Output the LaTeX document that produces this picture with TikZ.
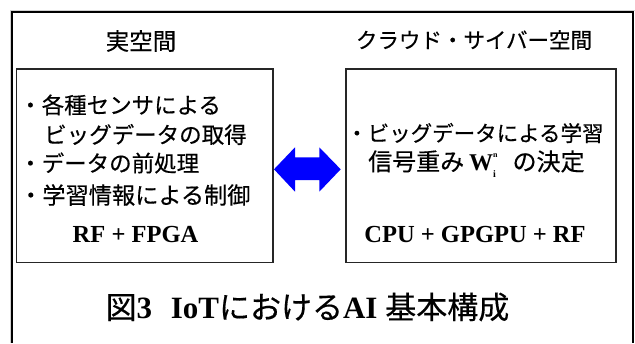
\documentclass[tikz,border=0pt]{standalone}
\usepackage{fontspec}
\setmainfont{Liberation Serif}
\newfontfamily\jp[FakeBold=0.4]{Noto Sans CJK JP}
\newcommand{\wsub}[2]{\makebox[0pt][l]{\raisebox{0.55em}{\fontsize{8}{8}\selectfont\bfseries #2}}\raisebox{-0.3em}{\fontsize{10}{10}\selectfont\bfseries #1}}
\begin{document}
\begin{tikzpicture}[x=1pt,y=-1pt,
  box/.style={draw=black!85,line width=1.2pt,inner sep=0pt,minimum width=256.5pt,minimum height=193.7pt},
  ttl/.style={inner sep=0pt,font=\jp\fontsize{22}{22}\selectfont},
  item/.style={inner sep=0pt,anchor=west,font=\jp\fontsize{22.5}{22.5}\selectfont},
  hw/.style={inner sep=0pt,font=\bfseries\fontsize{24.5}{24.5}\selectfont},
  captxt/.style={inner sep=0pt,font=\fontsize{31}{31}\selectfont}]
\useasboundingbox (0,0) rectangle (635,343);
% outer frame (open at the bottom)
\draw[black!18,line width=1pt] (10,343) -- (10,10) -- (635,10);
\draw[line width=2pt] (12,343) -- (12,12) -- (633,12) -- (633,343);
% boxes
\node[box] (lbox) at (144.75,165.85) {};
\node[box,minimum width=270pt] (rbox) at (481,165.85) {};
% titles
\node[ttl,font=\jp\fontsize{23.5}{23.5}\selectfont] (lt) at (141,41) {実空間};
\node[ttl,font=\jp\fontsize{21.5}{21.5}\selectfont] (rt) at (474,40) {クラウド・サイバー空間};
% left items
\node[item] (l1) at (19,105) {・各種センサによる};
\node[item] (l2) at (44,134.5) {ビッグデータの取得};
\node[item] (l3) at (19,163) {・データの前処理};
\node[item,font=\jp\fontsize{23.2}{23.2}\selectfont] (l4) at (19,195) {・学習情報による制御};
\node[hw] (lhw) at (135.5,235) {RF + FPGA};
% right items
\node[item,font=\jp\fontsize{21.5}{21.5}\selectfont] (r1) at (346,133) {・ビッグデータによる学習};
\node[item,font=\jp\fontsize{24}{24}\selectfont] (r2) at (368,164)
  {信号重み\hspace{0.2em}{\rmfamily\bfseries\fontsize{24}{24}\selectfont W\wsub{i}{n}}\hspace{0.7em}の決定};
\node[hw] (rhw) at (475,235) {CPU + GPGPU + RF};
% double arrow
\coordinate (at1) at (274,169.3);
\fill[blue] (at1)
  -- ++(21,-22) -- ++(0,10) -- ++(24.3,0) -- ++(0,-10) -- ++(21.4,22)
  -- ++(-21.4,22.4) -- ++(0,-11.7) -- ++(-24.3,0) -- ++(0,11.7) -- cycle;
% caption
\node[captxt] (caption) at (307.5,307)
  {{\jp 図}\textbf{3}\hspace{0.6em}\textbf{IoT}{\jp における}\textbf{AI} {\jp 基本構成}};
\end{tikzpicture}
\end{document}
